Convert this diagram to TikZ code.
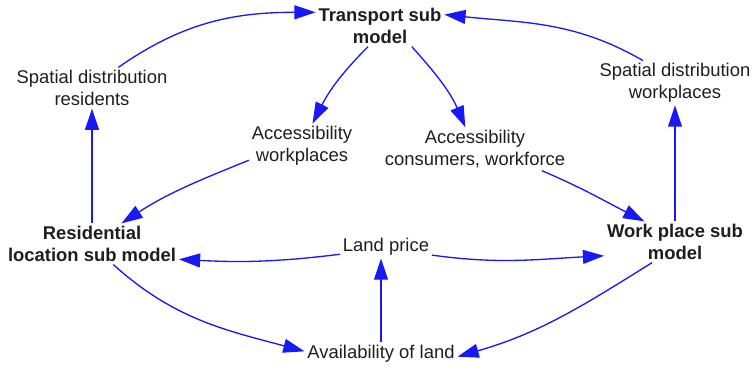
\documentclass[tikz,border=0pt]{standalone}
\usepackage{fontspec}
\setmainfont{Liberation Sans}
\usepackage{tikz}
\usetikzlibrary{
  arrows.meta,
  positioning
}
\definecolor{linkblue}{RGB}{25, 25, 245}
\definecolor{txtgray}{RGB}{30, 30, 30}
\tikzset{
  submodel/.style = {
    align=center, inner sep=2pt, text=txtgray,
    font=\fontsize{13.9}{16.5}\selectfont\bfseries
  },
  factor/.style = {
    align=center, inner sep=2pt, text=txtgray,
    font=\fontsize{13.9}{16.5}\selectfont
  },
  arrblu/.style = {-{Triangle[length=16pt, width=10.5pt]}, draw=linkblue,
    line width=1pt},
}

\begin{document}
\begin{tikzpicture}[x=0.0265cm, y=0.0265cm]
  \useasboundingbox (0,0) rectangle (754,371);

  %% sub models
  \node[submodel] (trans) at (380,345) {Transport sub\\model};
  \node[submodel] (res)   at (92,127)  {Residential\\location sub model};
  \node[submodel] (work)  at (675,129) {Work place sub\\model};

  %% factors
  \node[factor] (sdr)   at (92,283)  {Spatial distribution\\residents};
  \node[factor] (sdw)   at (675,288) {Spatial distribution\\workplaces};
  \node[factor] (accw)  at (302,225) {Accessibility\\workplaces};
  \node[factor] (accc)  at (475,222) {Accessibility\\consumers, workforce};
  \node[factor] (land)  at (386,124) {Land price};
  \node[factor] (avail) at (381,17)  {Availability of land};

  %% outer loop
  \draw[arrblu] (sdr.38) to[out=35, in=180] (trans.168);
  \draw[arrblu] (sdw.145) to[out=150, in=-6] (trans.10);
  \draw[arrblu] (res.north) -- (sdr.south);
  \draw[arrblu] (work.north) -- (sdw.south);

  %% accessibility
  \draw[arrblu] (trans.240) to[out=225, in=63] (accw.65);
  \draw[arrblu] (trans.-33) to[out=-48, in=113] (accc.114);
  \draw[arrblu] (accw.195) to[out=202, in=33] (res.35);
  \draw[arrblu] (accc.-18) to[out=-23, in=153] (work.146);

  %% land market
  \draw[arrblu] (land.189) to[out=187, in=-3] (res.-10);
  \draw[arrblu] (land.-10) to[out=-8, in=183] (work.191);
  \draw[arrblu] (avail.north) -- (avail.north |- land.south);
  \draw[arrblu] (res.-44) to[out=-42, in=165] (avail.178);
  \draw[arrblu] (work.222) to[out=212, in=16] (avail.-2);

\end{tikzpicture}
\end{document}
